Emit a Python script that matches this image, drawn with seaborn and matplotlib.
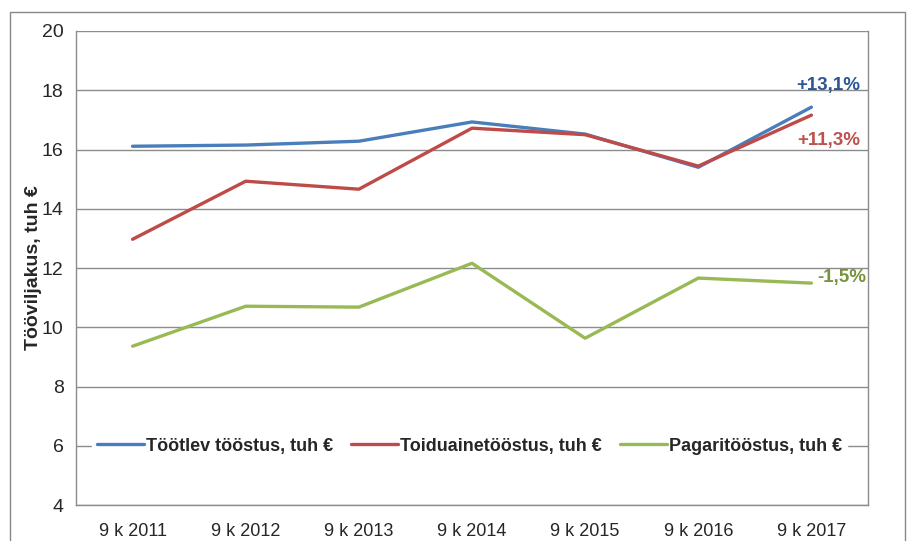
import pandas as pd
import matplotlib.pyplot as plt
import matplotlib.patches as mpatches
import seaborn as sns

# Data
periods = ['9 k 2011', '9 k 2012', '9 k 2013', '9 k 2014', '9 k 2015', '9 k 2016', '9 k 2017']
tootlev = [16.11, 16.15, 16.28, 16.93, 16.52, 15.40, 17.43]
toiduaine = [12.97, 14.93, 14.66, 16.72, 16.50, 15.44, 17.16]
pagari = [9.36, 10.71, 10.68, 12.16, 9.63, 11.66, 11.49]
series_names = ['Töötlev tööstus, tuh €', 'Toiduainetööstus, tuh €', 'Pagaritööstus, tuh €']
changes = ['+13,1%', '+11,3%', '-1,5%']

line_colors = ['#4A7EBB', '#BE4B48', '#98B954']
label_colors = ['#2C5694', '#C0504D', '#77933C']

rows = []
for name, vals in zip(series_names, [tootlev, toiduaine, pagari]):
    for i, v in enumerate(vals):
        rows.append({'pos': i, 'value': v, 'series': name})
df = pd.DataFrame(rows)

sns.set_style('white')
plt.rcParams['font.family'] = ['Liberation Sans', 'DejaVu Sans']

fig = plt.figure(figsize=(9.07, 5.41), dpi=100)
ax = fig.add_axes([0.0838, 0.0665, 0.8732, 0.8762])

# outer chart border
fig.patches.append(mpatches.Rectangle((10 / 907, -0.05), 895 / 907, 1.05 - 12 / 541,
                                      transform=fig.transFigure, fill=False,
                                      edgecolor='#888888', linewidth=1.0))

sns.lineplot(data=df, x='pos', y='value', hue='series', palette=line_colors,
             linewidth=2.4, ax=ax, legend=True)

ax.set_xlim(-0.5, 6.5)
ax.set_ylim(4, 20)
ax.set_yticks(range(4, 21, 2))
ax.yaxis.grid(True, color='#8C8C8C', linewidth=1.0)
ax.set_axisbelow(True)

ax.set_xticks(range(len(periods)))
ax.set_xticklabels(periods, fontsize=13)
ax.set_xticks([x - 0.5 for x in range(len(periods) + 1)], minor=True)
ax.tick_params(axis='x', which='major', length=0, pad=13)
ax.tick_params(axis='x', which='minor', length=5, color='#8C8C8C', width=1)
ax.tick_params(axis='y', length=6, color='#8C8C8C', width=1, labelsize=14, pad=3)

for side in ['left', 'bottom', 'right']:
    ax.spines[side].set_color('#8C8C8C')
    ax.spines[side].set_linewidth(1.0)
ax.spines['top'].set_visible(False)

ax.set_xlabel('')
ax.set_ylabel('Tööviljakus, tuh €', fontsize=14, fontweight='bold', labelpad=0)

# change labels at the end of the lines
last_vals = [tootlev[-1], toiduaine[-1], pagari[-1]]
ax.text(6.15, 18.15, changes[0], color=label_colors[0], fontsize=13.5, fontweight='bold',
        ha='center', va='center')
ax.text(6.15, 16.3, changes[1], color=label_colors[1], fontsize=13.5, fontweight='bold',
        ha='center', va='center')
ax.text(6.05, last_vals[2] + 0.2, changes[2], color=label_colors[2], fontsize=13.5,
        fontweight='bold', ha='left', va='center')

leg = ax.legend(loc='center', bbox_to_anchor=(0.497, 0.124), ncol=3, frameon=True,
                fancybox=False, edgecolor='white', framealpha=1.0, handlelength=2.6,
                handletextpad=0.1, columnspacing=1.0, borderpad=0.3,
                prop={'weight': 'bold', 'size': 13})
for line in leg.get_lines():
    line.set_linewidth(2.4)

fig.savefig('out.png', dpi=100)
